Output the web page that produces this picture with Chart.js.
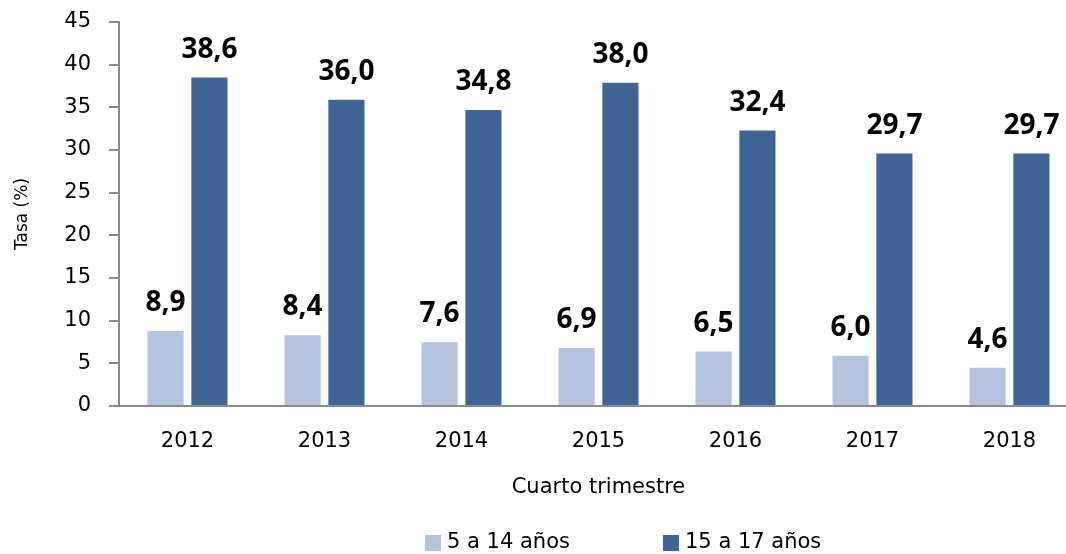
<!DOCTYPE html>
<html>
<head>
<meta charset="utf-8">
<script src="https://cdn.jsdelivr.net/npm/chart.js@4"></script>
<style>
  html, body { margin: 0; padding: 0; background: #fff; overflow: hidden; }
  #wrap { width: 1066px; height: 554px; overflow: hidden; }
</style>
</head>
<body>
<div id="wrap"><canvas id="chart" width="1080" height="554"></canvas></div>
<script>
// Data
const years = ['2012', '2013', '2014', '2015', '2016', '2017', '2018'];
const seriesNames = ['5 a 14 años', '15 a 17 años'];
const young = [8.9, 8.4, 7.6, 6.9, 6.5, 6.0, 4.6];
const teens = [38.6, 36.0, 34.8, 38.0, 32.4, 29.7, 29.7];
const yTicks = [0, 5, 10, 15, 20, 25, 30, 35, 40, 45];

const FONT = "'DejaVu Sans', sans-serif";
const BOLD_FONT = "'Open Sans', 'DejaVu Sans', sans-serif";
const colors = ['#b4c3de', '#3e6594'];

function fmt(v) {
  return v.toFixed(1).replace('.', ',');
}

// value labels above each bar
const valueLabels = {
  id: 'valueLabels',
  afterDatasetsDraw(chart) {
    const ctx = chart.ctx;
    ctx.save();
    ctx.font = 'bold 28px ' + BOLD_FONT;
    ctx.fillStyle = '#000';
    ctx.textAlign = 'center';
    ctx.textBaseline = 'alphabetic';
    chart.data.datasets.forEach((ds, i) => {
      chart.getDatasetMeta(i).data.forEach((bar, j) => {
        ctx.fillText(fmt(ds.data[j]), bar.x, bar.y - 19);
      });
    });
    ctx.restore();
  }
};

// simple legend at the bottom
const bottomLegend = {
  id: 'bottomLegend',
  afterDraw(chart) {
    const ctx = chart.ctx;
    const xs = [425, 663];
    const y = 543;
    ctx.save();
    ctx.font = '21px ' + FONT;
    ctx.textBaseline = 'middle';
    ctx.textAlign = 'left';
    chart.data.datasets.forEach((ds, i) => {
      ctx.fillStyle = ds.backgroundColor;
      ctx.fillRect(xs[i], y - 8, 16, 16);
      ctx.fillStyle = '#000';
      ctx.fillText(ds.label, xs[i] + 22, y);
    });
    ctx.restore();
  }
};

new Chart(document.getElementById('chart'), {
  type: 'bar',
  data: {
    labels: years,
    datasets: [
      { label: seriesNames[0], data: young, backgroundColor: colors[0], borderColor: '#fff', borderWidth: 1 },
      { label: seriesNames[1], data: teens, backgroundColor: colors[1], borderColor: '#fff', borderWidth: 1 }
    ]
  },
  options: {
    responsive: false,
    animation: false,
    events: [],
    layout: { padding: { top: 22, right: 2, bottom: 54, left: 0 } },
    datasets: { bar: { categoryPercentage: 0.64, barPercentage: 0.87 } },
    plugins: {
      legend: { display: false },
      tooltip: { enabled: false }
    },
    scales: {
      x: {
        grid: { drawOnChartArea: false, drawTicks: false },
        border: { color: '#8a8a8a', width: 2 },
        ticks: { color: '#000', font: { family: FONT, size: 21 }, padding: 23 },
        title: { display: true, text: 'Cuarto trimestre', color: '#000', font: { family: FONT, size: 21 }, padding: 0 },
        afterFit(scale) { scale.height = 94; scale.paddingLeft = 0; scale.paddingRight = 0; }
      },
      y: {
        min: 0,
        max: 45,
        afterBuildTicks(scale) { scale.ticks = yTicks.map(v => ({ value: v })); },
        grid: { drawOnChartArea: false, drawTicks: true, tickLength: 10, color: '#8a8a8a', lineWidth: 2 },
        border: { color: '#8a8a8a', width: 2 },
        ticks: { color: '#000', font: { family: FONT, size: 21 }, padding: 18 },
        title: { display: true, text: 'Tasa (%)', color: '#000', font: { family: FONT, size: 17 }, padding: 12 },
        afterFit(scale) { scale.width = 119; scale.paddingTop = 0; scale.paddingBottom = 0; }
      }
    }
  },
  plugins: [valueLabels, bottomLegend]
});
</script>
</body>
</html>
